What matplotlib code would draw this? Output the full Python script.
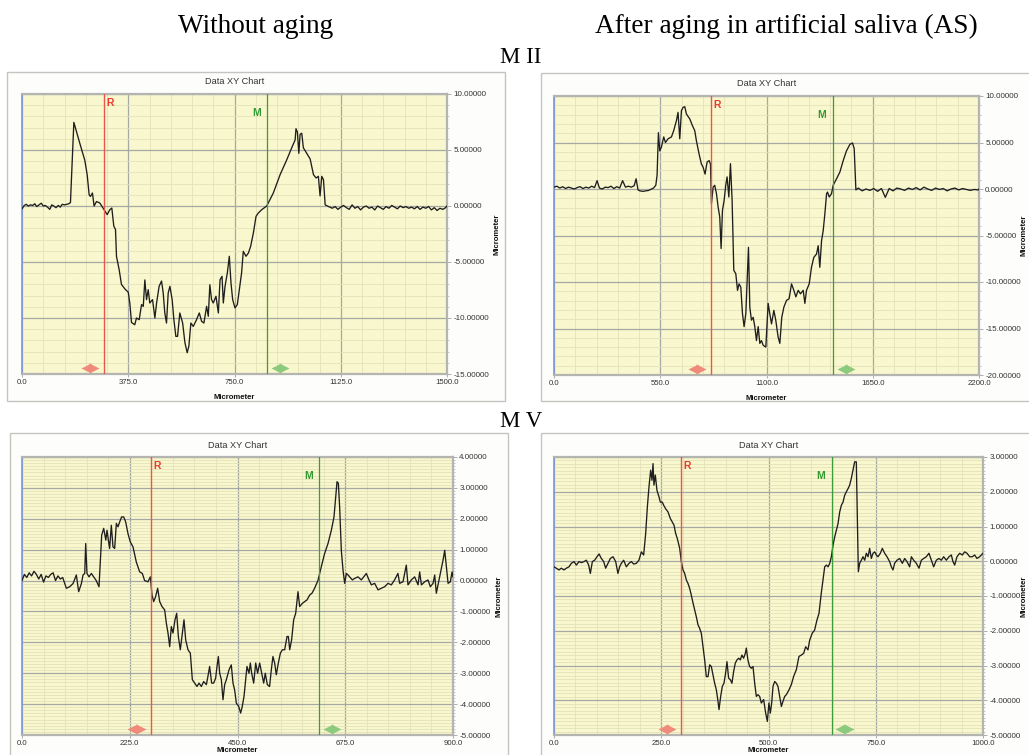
import matplotlib
matplotlib.use('Agg')
import matplotlib.pyplot as plt
import matplotlib.transforms as mtrans
from matplotlib.patches import Rectangle
from matplotlib.ticker import MultipleLocator, FormatStrFormatter

# ---------------- data ----------------
# M II, without aging
m2_raw_x = [0, 8, 15, 22, 30, 38, 45, 52, 60, 68, 75, 82, 90, 98, 105, 112, 120, 128, 135, 142, 150, 158, 165,
            171, 183, 204, 221.5, 230, 237, 241.5, 248.6, 254.5, 263, 274.5, 286, 300.5, 310, 317, 324, 330, 333.5,
            343, 351, 363, 375, 380.6, 386.5, 398, 404, 413.6, 422, 428, 433.6, 439.5, 445.4, 451, 460.7, 469, 475,
            484, 492.5, 498.4, 504, 510, 516, 522, 530, 536, 543, 549, 557, 567, 575, 583, 589, 596, 604.5, 616,
            625.7, 634, 642, 651.6, 657.5, 663, 669, 675, 684.6, 693, 699, 706, 710.5, 716.6, 724.7, 731.7, 737.6,
            743.5, 751.7, 760, 767, 775, 781, 790.6, 799, 807, 816.6, 826, 834, 846, 863.7, 887, 911, 934, 952, 964,
            967, 972, 977, 981.5, 987.4, 993, 1005, 1017, 1028.7, 1038, 1046, 1052, 1058, 1064, 1070, 1082,
            1095, 1105, 1115, 1125, 1135, 1145, 1155, 1165, 1175, 1185, 1195, 1205, 1215, 1225, 1235, 1245, 1255,
            1265, 1275, 1285, 1295, 1305, 1315, 1325, 1335, 1345, 1355, 1365, 1375, 1385, 1395, 1405, 1415, 1425,
            1435, 1445, 1455, 1465, 1475, 1485, 1495, 1500]
m2_raw_y = [-0.25, 0.05, 0.15, 0.0, 0.1, 0.05, 0.2, -0.05, 0.1, 0.25, 0.0, 0.05, -0.1, -0.3, 0.1, 0.0, -0.15, 0.05,
            -0.1, 0.15, 0.1, 0.15, 0.2,
            0.3, 7.47, 5.6, 4.1, 2.8, 1.0, 0.85, 1.16, 0.0, 0.4, 0.27, -0.18, -0.77, -0.33, -0.18, -1.8, -2.1, -4.5,
            -5.7, -7.0, -7.4, -7.7, -8.7, -10.4, -10.6, -10.0, -10.15, -8.8, -8.96, -6.6, -8.36, -7.47, -8.66, -8.36,
            -10.0, -8.66, -7.17, -6.7, -7.77, -9.55, -10.45, -7.77, -7.17, -8.36, -10.15, -11.64, -11.64, -9.55,
            -10.45, -12.2, -13.1, -12.5, -10.45, -10.75, -10.15, -9.55, -10.3, -10.45, -8.96, -9.85, -7.03, -8.36,
            -8.66, -8.06, -9.55, -6.58, -6.28, -8.66, -7.17, -5.98, -4.49, -6.87, -8.36, -9.1, -8.8, -7.47, -5.98,
            -4.05, -4.49, -4.2, -3.6, -2.41, -0.92, -0.63, -0.33, 0.0, 1.16, 2.8, 4.1, 5.2, 5.9, 6.9, 6.6, 4.7, 6.4,
            6.5, 5.2, 4.7, 4.2, 2.8, 2.5, 2.65, 0.9, 2.65, 2.35, 0.1, -0.05,
            -0.2, -0.05, -0.3, -0.1, 0.05, -0.15, -0.3, 0.1, -0.2, -0.05, -0.35, -0.1, 0.0, -0.2, -0.1, -0.35, 0.0,
            -0.15, -0.3, -0.05, -0.2, 0.05, -0.1, -0.25, 0.0, -0.15, -0.05, -0.2, -0.1, -0.25, -0.05, -0.3, -0.1,
            -0.2, -0.05, -0.35, -0.15, -0.4, -0.2, -0.3, -0.15, 0.0]

# M II, after aging in AS
m2_as_x = [0, 15, 30, 45, 60, 75, 90, 105, 120, 135, 150, 165, 180, 195, 210, 223, 235, 250, 265, 280, 295, 310,
           325, 340, 355, 370, 385, 400, 415, 425, 435, 445, 460, 475, 490, 505, 515,
           527, 533.6, 540.5, 547.4, 556, 568, 576.8, 590.6, 608, 620, 633.7, 642, 651, 659.6, 668, 677, 685.5, 703,
           716.6, 728.7, 737, 751, 763, 772, 782, 792.5, 803, 810, 815, 823.7, 832, 841, 849.6, 858, 865, 872,
           880.7, 889, 896, 905, 913.5, 922, 930.7, 941, 950, 958, 967, 975.6, 984, 993, 1000, 1006.7, 1013.6,
           1022, 1031, 1039.5, 1048, 1057, 1065.4, 1074, 1082.7, 1096.5, 1108.6, 1117, 1126, 1138, 1148, 1160,
           1169, 1179, 1190, 1203.6, 1217, 1229.5, 1241.6, 1252, 1264, 1276, 1290, 1298.6, 1307, 1321, 1333, 1345,
           1359, 1367.6, 1376, 1385, 1393.5, 1402, 1411, 1416, 1424.6, 1436.7, 1445, 1462.6, 1480, 1497, 1514,
           1531.7, 1545.5, 1554, 1562.7,
           1575, 1595, 1615, 1635, 1655, 1675, 1695, 1715, 1735, 1755, 1775, 1795, 1815, 1835, 1855, 1875, 1895,
           1915, 1935, 1955, 1975, 1995, 2015, 2035, 2055, 2075, 2095, 2115, 2135, 2155, 2175, 2195, 2200]
m2_as_y = [0.2, 0.3, 0.1, 0.25, 0.05, 0.2, 0.1, 0.0, 0.15, 0.25, 0.05, 0.2, 0.1, 0.3, 0.15, 0.9, 0.1, 0.0, 0.2,
           0.15, 0.3, 0.05, 0.25, 0.1, 0.9, 0.2, 0.3, 0.2, 0.35, 1.1, -0.1, -0.2, -0.25, -0.2, -0.15, 0.0, 0.1,
           0.4, 1.47, 6.06, 4.1, 4.5, 5.6, 5.0, 5.4, 5.6, 6.3, 7.35, 8.24, 5.4, 8.42, 8.78, 8.85, 8.06, 7.53, 6.81,
           6.27, 5.2, 3.76, 2.69, 2.33, 1.6, 2.9, 3.05, 2.69, -1.58, 0.2, 0.4, -0.5, -1.94, -3.0, -6.4, -2.3, -1.22,
           0.4, 1.3, -0.86, 2.72, -1.22, -8.75, -9.1, -10.9, -10.2, -10.55, -13.4, -14.8, -13.4, -9.82, -6.27,
           -12.7, -14.1, -13.8, -14.8, -16.3, -14.8, -16.6, -16.3, -16.8, -17.0, -12.3, -13.4, -14.5, -13.05, -14.1,
           -15.9, -16.6, -13.8, -12.7, -11.98, -11.8, -10.2, -10.9, -11.6, -10.9, -11.27, -10.9, -12.3, -10.9,
           -10.2, -8.4, -7.35, -6.99, -6.1, -8.42, -5.56, -4.48, -2.69, -0.5, -0.33, -0.86, -0.5, 0.4, 1.1, 1.83,
           3.05, 4.1, 4.8, 4.95, 4.34, -0.1,
           0.1, -0.2, 0.0, -0.15, 0.05, -0.25, 0.05, -0.9, 0.05, -0.2, 0.1, 0.0, -0.15, 0.1, -0.05, 0.15, -0.1, 0.2,
           0.0, -0.15, 0.1, -0.05, 0.05, -0.2, 0.0, 0.1, -0.1, 0.05, -0.05, -0.15, -0.05, -0.1, 0.0]

# M V, without aging
m5_raw_x = [0, 5, 10, 15, 20, 25, 30, 35, 40, 45, 50, 55, 60, 65, 70, 75, 80, 85,
            92.6, 99.5, 106.5, 113.5, 118.3, 124, 127.4, 131, 133, 135.7, 140, 144.8, 149.7, 155, 160.8, 163.6,
            166.4, 170.6, 175, 177.5, 180.3, 183, 186.5, 190, 193.5, 197, 200.5, 204, 208, 212.3, 216.5, 221.3,
            226.2, 231.8, 238.7, 245.7, 251.3, 256, 263, 268, 271.5, 275, 279, 283.3, 287.5, 292.3, 297.9, 301.4,
            304.9, 308.4, 311.8, 315.3, 319.5, 323, 326.5, 330.6, 334.8, 338.3, 341.8, 346.6, 351.5, 355.7, 360.5,
            365.4, 369.6, 374.5, 379.4, 385, 388.3, 391.8, 396, 400.2, 404.4, 407.2, 410, 412.8, 416.3, 419.7,
            423.2, 426.7, 432.3, 437, 440.6, 444, 447.6, 452.4, 456.6, 460, 463.6, 467, 469.8, 474, 476.8, 479.6,
            483.8, 488, 492, 496.3, 500.5, 504.7, 508, 512.3, 517, 520.6, 524, 527.6, 531, 535.3, 539.5, 543.7,
            548.5, 553.4, 556.2, 559, 563, 567.3, 571.5, 576.3, 579.8, 585.4, 590.3, 595, 600.7, 605.5, 611, 618,
            625, 632, 639, 646, 651.5, 655, 657.8, 660.6, 663.3, 666.8, 670.3, 673.8, 677.3, 680.8, 684.2, 689.8,
            694.7, 701.6, 708.6, 713.5, 719, 724.6, 729.5, 736.4, 743.4, 750.4, 757.3, 764.3, 771.2, 778, 785,
            788.6, 795.6, 802.5, 806, 813, 820, 827, 830.4, 834, 840.8, 847.8, 852.7, 858.3, 861.8, 865.2, 870.8,
            875.7, 879.2, 882.7, 886.2, 889.7, 894.5, 898, 900]
m5_raw_y = [0.0, 0.2, 0.1, 0.25, 0.15, 0.3, 0.2, 0.05, 0.2, -0.05, 0.15, 0.1, 0.2, 0.25, 0.0, 0.15, 0.05, 0.1,
            -0.25, -0.2, -0.1, 0.18, -0.36, -0.1, 0.18, 0.23, 1.2, 0.23, 0.12, 0.23, 0.12, 0.0, -0.2, 0.66, 1.47,
            1.69, 1.31, 1.63, 1.31, 1.04, 1.79, 1.09, 1.04, 1.85, 1.74, 1.9, 2.06, 2.06, 1.9, 1.52, 1.25, 1.09,
            0.6, 0.28, 0.23, 0.0, -0.04, 0.12, -0.47, -0.68, -0.52, -0.25, -0.68, -0.84, -0.95, -1.38, -1.7, -2.14,
            -1.49, -1.7, -1.27, -1.06, -1.81, -2.24, -1.7, -1.27, -1.92, -2.24, -2.35, -3.21, -3.32, -3.43, -3.32,
            -3.43, -3.27, -3.37, -3.1, -2.78, -3.32, -3.32, -3.16, -2.78, -2.46, -3.0, -3.21, -3.86, -3.37, -3.21,
            -2.89, -2.73, -3.32, -3.54, -3.97, -4.07, -4.29, -4.07, -3.75, -3.21, -2.78, -3.0, -2.67, -3.0, -3.32,
            -2.67, -3.0, -2.67, -3.0, -3.32, -3.0, -3.37, -3.43, -2.89, -2.46, -2.67, -3.05, -2.67, -2.35, -2.24,
            -2.24, -1.81, -1.81, -2.24, -1.92, -1.27, -1.06, -0.36, -0.84, -0.74, -0.68, -0.63, -0.47, -0.41, -0.25,
            0.0, 0.45, 0.88, 1.2, 1.63, 2.06, 2.7, 3.2, 3.15, 2.38, 0.98, 0.34, -0.09, 0.23, 0.18, 0.12, 0.02, 0.07,
            0.12, 0.02, 0.12, 0.23, 0.02, -0.14, -0.09, -0.3, -0.25, -0.2, -0.09, -0.14, 0.02, 0.23, -0.09, -0.04,
            0.5, -0.14, 0.02, 0.12, -0.14, 0.28, -0.14, -0.04, 0.02, -0.2, -0.09, 0.18, -0.41, 0.02, 0.39, 0.66,
            0.98, 0.45, -0.09, -0.04, 0.28, 0.12]

# M V, after aging in AS
m5_as_x = [0, 5.4, 11.7, 17, 23.3, 28.7, 35, 40.4, 46.6, 52, 58.3, 63.7, 70, 75.4, 80.8, 84.7, 89.4, 94.8, 100.2,
           105, 110.4, 115.8, 120.4, 125.9, 131.3, 137.5, 143.8, 149, 153, 157, 162.4, 168.6, 174.8, 180.3, 185.7,
           192, 198, 203.6, 209, 213.7, 217.6, 221.4, 225.3, 228.4, 230.8, 233, 236.2, 240, 244.8, 247.9, 252.6,
           255.7, 260.3, 265.7, 271.2, 275.8, 279.7, 283.6, 287.5, 293, 296.8, 300.7, 304.6, 308.5, 312.4, 316.2,
           320, 324, 328, 331.8, 335.7, 339.5, 343.4, 347.3, 351.2, 355, 359, 362.9, 366.7, 370.6, 374.5, 378.4,
           382.3, 384.6, 388.5, 392.4, 396.2, 400, 403.2, 407, 411, 414.8, 418.8, 422.6, 426.5, 430.4, 434.3, 438,
           442, 446, 448.3, 452, 456, 460, 463.9, 467.8, 471.6, 475.5, 479.4, 483.3, 488.7, 493.4, 497.3, 501,
           504.3, 507.4, 510.5, 514.4, 518.2, 522.1, 526, 530, 533.8, 537.7, 541.6, 547.8, 553.2, 558.7, 564.9,
           571, 576.5, 582, 586.6, 592, 596, 602, 607.5, 613, 617.7, 623, 627, 631, 634.9, 638.8, 642.7, 646.5,
           650.4, 654.3, 658.2, 662, 666, 669.8, 673.7, 677.6, 681.5, 685.4, 689.2, 693, 697, 700.8, 704.7, 707,
           709.4, 712.5, 716.4, 720.3, 724.2, 728, 732, 735.8, 739.7, 743.6, 747.5, 751.4, 755.3, 760.7, 765.3,
           770.8, 776.2, 782.4, 786.3, 790.2, 794, 799.5, 805.7, 812, 817.4, 822.8, 829, 833, 838.4, 844.6, 850.8,
           856.3, 861.7, 867.9, 874, 879.6, 885, 891.2, 897.4, 902.9, 908.3, 914.5, 920.7, 926.2, 930, 934, 939.4,
           945.6, 951.8, 957.3, 962.7, 968.9, 975.1, 980.5, 986, 992.2, 996, 1000]
m5_as_y = [-0.16, -0.2, -0.25, -0.2, -0.25, -0.2, -0.16, -0.06, -0.01, -0.11, -0.01, -0.04, -0.01, 0.03, -0.11,
           -0.35, -0.01, 0.03, 0.13, 0.21, 0.08, -0.01, -0.2, -0.06, 0.08, 0.13, -0.01, -0.35, -0.16, -0.06, 0.03,
           -0.16, -0.06, -0.01, -0.08, -0.06, 0.03, 0.27, 0.18, 0.8, 1.56, 2.14, 2.62, 2.33, 2.81, 2.19, 2.48, 2.04,
           1.85, 1.7, 1.7, 1.61, 1.51, 1.42, 1.23, 1.13, 1.04, 0.8, 0.65, 0.37, -0.01, -0.25, -0.35, -0.54, -0.64,
           -0.78, -0.97, -1.2, -1.4, -1.6, -1.83, -1.93, -2.07, -2.46, -2.84, -3.32, -3.32, -2.98, -3.03, -3.27,
           -3.51, -3.7, -4.03, -4.27, -3.89, -3.6, -3.51, -3.22, -2.89, -3.36, -3.41, -3.51, -3.17, -2.93, -2.84,
           -2.79, -2.84, -2.7, -2.79, -2.65, -2.5, -2.84, -3.03, -3.08, -3.03, -3.51, -3.89, -3.84, -3.89, -4.08,
           -3.98, -4.37, -4.61, -4.08, -4.37, -4.08, -3.6, -3.46, -3.51, -3.6, -3.89, -4.18, -4.03, -3.89, -3.84,
           -3.7, -3.55, -3.31, -3.12, -2.74, -2.7, -2.65, -2.46, -2.55, -2.27, -2.07, -1.98, -1.69, -1.5, -0.92,
           -0.54, -0.16, -0.11, -0.16, -0.06, 0.13, 0.46, 0.7, 0.89, 1.08, 1.42, 1.61, 1.7, 1.9, 2.0, 2.09, 2.19,
           2.38, 2.62, 2.86, 2.86, 1.37, -0.3, -0.06, 0.03, 0.13, 0.03, 0.23, 0.13, 0.37, 0.08, 0.23, 0.27, 0.18,
           0.13, 0.23, 0.37, 0.23, 0.13, -0.01, -0.16, -0.25, -0.06, 0.03, 0.08, -0.06, 0.08, -0.01, -0.16, 0.13,
           0.03, -0.06, -0.2, 0.03, 0.08, 0.13, 0.23, 0.03, -0.16, 0.03, 0.08, 0.03, 0.13, 0.03, 0.13, 0.18, -0.01,
           -0.11, 0.13, 0.23, 0.18, 0.27, 0.23, 0.13, 0.13, 0.18, 0.08, 0.13, 0.18, 0.23]

# axis ranges / ticks / cursor positions per panel: [MII raw, MII AS, MV raw, MV AS]
x_max = [1500.0, 2200.0, 900.0, 1000.0]
y_min = [-15.0, -20.0, -5.0, -5.0]
y_max = [10.0, 10.0, 4.0, 3.0]
x_major = [375.0, 550.0, 225.0, 250.0]
y_major = [5.0, 5.0, 1.0, 1.0]
y_minor = [1.0, 1.0, 0.1, 0.1]
cursor_R = [290, 813, 269, 297]
cursor_M = [865, 1444, 621, 647]
handle_R = [240, 740, 239, 264]
handle_M = [911, 1511, 647, 677]

header_left = "Without aging"
header_right = "After aging in artificial saliva (AS)"
row_labels = ["M II", "M V"]
chart_title = "Data XY Chart"
axis_name = "Micrometer"

series_x = [m2_raw_x, m2_as_x, m5_raw_x, m5_as_x]
series_y = [m2_raw_y, m2_as_y, m5_raw_y, m5_as_y]

# ---------------- layout (pixels) ----------------
W, H = 1029, 755
fig = plt.figure(figsize=(W / 100, H / 100), dpi=100)
fig.patch.set_facecolor('white')

def fr(x0, y0, x1, y1):
    return [x0 / W, 1 - y1 / H, (x1 - x0) / W, (y1 - y0) / H]

plot_boxes = [(22, 94, 447, 374), (554, 96, 979, 375), (22, 457, 453, 735), (554, 457, 983, 735)]
frame_boxes = [(7, 72, 505, 401), (541, 73, 1040, 401), (10, 433, 508, 770), (541, 433, 1040, 770)]
ylabel_x = [497, 1024, 499, 1024]
xlabel_bottom = [401, 402, 754.5, 754.5]

SANS = ['Liberation Sans', 'DejaVu Sans']
SERIF = ['Liberation Serif', 'DejaVu Serif']

for i in range(4):
    fx0, fy0, fx1, fy1 = frame_boxes[i]
    fig.patches.append(Rectangle((fx0 / W, 1 - fy1 / H), (fx1 - fx0) / W, (fy1 - fy0) / H,
                                 transform=fig.transFigure, facecolor='#fdfdfb',
                                 edgecolor='#c4c4c0', linewidth=1.0, zorder=-10))
    px0, py0, px1, py1 = plot_boxes[i]
    ax = fig.add_axes(fr(px0, py0, px1, py1))
    ax.set_facecolor('#f9f7cd')
    ax.set_xlim(0, x_max[i])
    ax.set_ylim(y_min[i], y_max[i])
    ax.xaxis.set_major_locator(MultipleLocator(x_major[i]))
    ax.xaxis.set_minor_locator(MultipleLocator(x_major[i] / 5))
    ax.yaxis.set_major_locator(MultipleLocator(y_major[i]))
    ax.yaxis.set_minor_locator(MultipleLocator(y_minor[i]))
    ax.xaxis.set_major_formatter(FormatStrFormatter('%.1f'))
    ax.yaxis.set_major_formatter(FormatStrFormatter('%.5f'))
    ax.yaxis.tick_right()
    ax.grid(which='minor', color='#e4e2b8', linewidth=0.6)
    ax.grid(which='major', color='#a6a8a6', linewidth=0.9)
    ax.set_axisbelow(True)
    for s in ['top', 'right', 'bottom']:
        ax.spines[s].set_color('#b4b4b0')
        ax.spines[s].set_linewidth(1.6)
    ax.spines['left'].set_color('#7a98e0')
    ax.spines['left'].set_linewidth(1.2)
    ax.tick_params(axis='y', which='major', length=3, width=0.6, color='#a0a0a0',
                   labelsize=5.8, labelcolor='#333333', pad=1.5)
    ax.tick_params(axis='y', which='minor', length=1.5, width=0.5, color='#b0b0b0')
    ax.tick_params(axis='x', which='major', length=2, width=0.6, color='#a0a0a0',
                   labelsize=5.6, labelcolor='#333333', pad=1.5)
    ax.tick_params(axis='x', which='minor', length=0)
    for lab in ax.get_xticklabels() + ax.get_yticklabels():
        lab.set_family(SANS)

    ax.plot(series_x[i], series_y[i], color='#1e1e1e', linewidth=0.95, zorder=3)

    ax.axvline(cursor_R[i], color='#e8584a', linewidth=1.0, zorder=4)
    ax.axvline(cursor_M[i], color='#3c9c3c', linewidth=0.9, zorder=4)
    ax.text(cursor_R[i], 0.968, ' R', transform=ax.get_xaxis_transform(), color='#e83a30',
            fontsize=7.5, fontweight='bold', ha='left', va='center', family=SANS, zorder=5)
    ax.text(cursor_M[i], 0.932, 'M  ', transform=ax.get_xaxis_transform(), color='#2f9a2f',
            fontsize=7.5, fontweight='bold', ha='right', va='center', family=SANS, zorder=5)

    base = ax.get_xaxis_transform()
    for hx, col in ((handle_R[i], '#f08a7a'), (handle_M[i], '#8ccb7e')):
        ax.plot([hx], [0.022], marker='<', ms=6.5, color=col, mec='none', zorder=5, clip_on=False,
                transform=mtrans.offset_copy(base, fig=fig, x=-4.2, y=0, units='dots'))
        ax.plot([hx], [0.022], marker='>', ms=6.5, color=col, mec='none', zorder=5, clip_on=False,
                transform=mtrans.offset_copy(base, fig=fig, x=4.2, y=0, units='dots'))

    # chart title / axis names
    cx = (px0 + px1) / 2
    fig.text(cx / W, 1 - (py0 - 12) / H, chart_title, ha='center', va='center',
             fontsize=6.6, color='#333333', family=SANS)
    fig.text(cx / W, 1 - xlabel_bottom[i] / H, axis_name, ha='center', va='bottom',
             fontsize=5.6, fontweight='bold', color='#111111', family=SANS)
    fig.text(ylabel_x[i] / W, 1 - ((py0 + py1) / 2) / H, axis_name, ha='center', va='center',
             rotation=90, fontsize=5.6, fontweight='bold', color='#111111', family=SANS)

# headers
fig.text(256 / W, 1 - 33 / H, header_left, ha='center', va='baseline', fontsize=19.6, family=SERIF)
fig.text(786 / W, 1 - 33 / H, header_right, ha='center', va='baseline', fontsize=19.6, family=SERIF)
fig.text(521 / W, 1 - 63 / H, row_labels[0], ha='center', va='baseline', fontsize=16.5, family=SERIF)
fig.text(521 / W, 1 - 427 / H, row_labels[1], ha='center', va='baseline', fontsize=16.5, family=SERIF)

fig.savefig('out.png', dpi=100)
